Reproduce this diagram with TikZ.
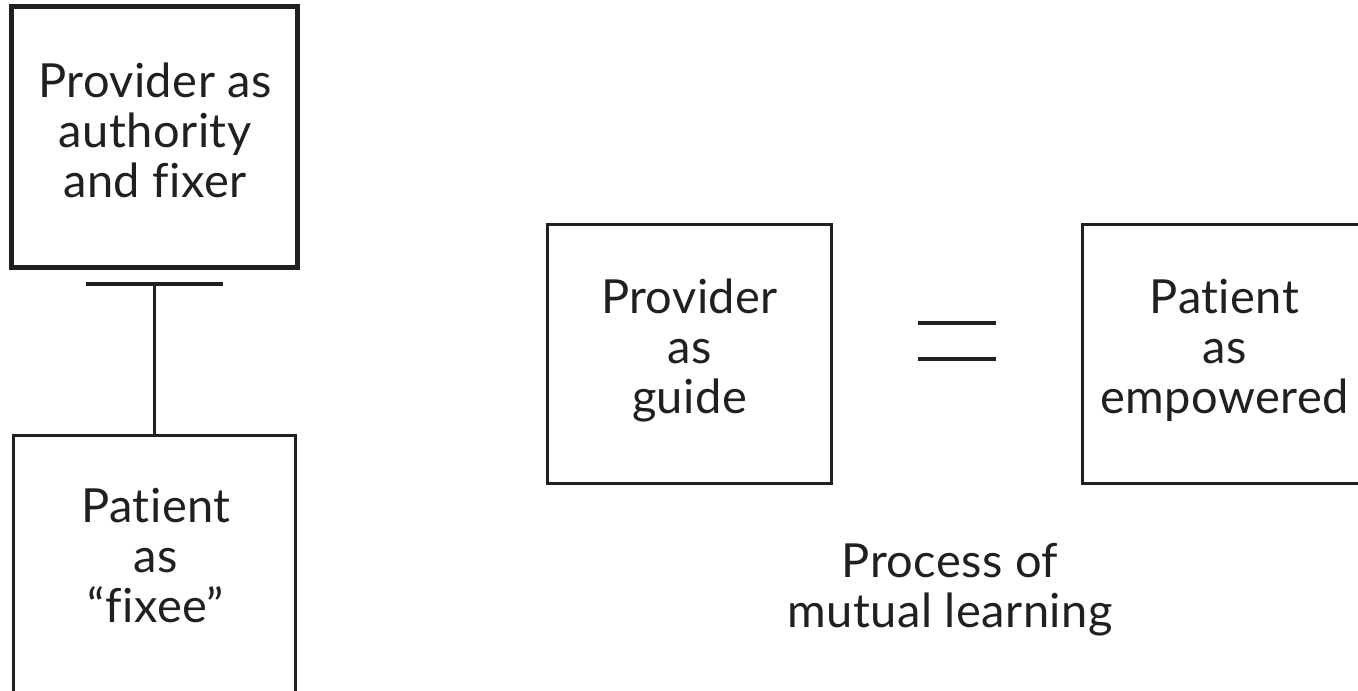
\documentclass[tikz,border=0pt]{standalone}
\usepackage{fontspec}
\setmainfont[Ligatures=NoCommon,LetterSpace=1]{Lato}
\definecolor{ink}{HTML}{231F20}
\begin{document}
\begin{tikzpicture}[x=1pt,y=-1pt,
  box/.style={draw=ink, line width=3pt, minimum width=284pt, minimum height=259pt, inner sep=0pt},
  txt/.style={text=ink, font=\fontsize{47}{50}\selectfont, align=center, inner sep=0pt},
  link/.style={draw=ink, line width=3.5pt},
  eqline/.style={draw=ink, line width=4pt}]
\useasboundingbox (0,0) rectangle (1358,691);
\clip (0,0) rectangle (1358,691);
% left part
\node[box, line width=5.5pt, minimum width=286pt, minimum height=261pt] (authbox) at (154.5,137) {};
\node[txt] (auth) at (155,130) {Provider as\\authority\\and fixer};
\node[box, minimum width=282pt, minimum height=320pt] (fixeebox) at (154.5,595.5) {};
\node[txt] (fixee) at (156,556) {Patient\\as\\“fixee”};
\coordinate (barL) at (86,284);
\coordinate (barR) at (223,284);
\coordinate (barM) at (154.5,284);
\draw[link, line width=4pt] (barL) -- (barR);
\draw[link] (barM) -- (fixeebox.north);
% right part
\node[box] (guidebox) at (689.5,354) {};
\node[txt] (guide) at (689.5,350.5) {Provider\\as\\guide};
\node[box] (empbox) at (1224.5,354) {};
\node[txt] (emp) at (1224.5,350.5) {Patient\\as\\empowered};
\coordinate (eq1L) at (918,323);
\coordinate (eq1R) at (996,323);
\coordinate (eq2L) at (918,359);
\coordinate (eq2R) at (996,359);
\draw[eqline] (eq1L) -- (eq1R);
\draw[eqline] (eq2L) -- (eq2R);
\node[txt] (process) at (950,590) {Process of\\mutual learning};
\end{tikzpicture}
\end{document}
